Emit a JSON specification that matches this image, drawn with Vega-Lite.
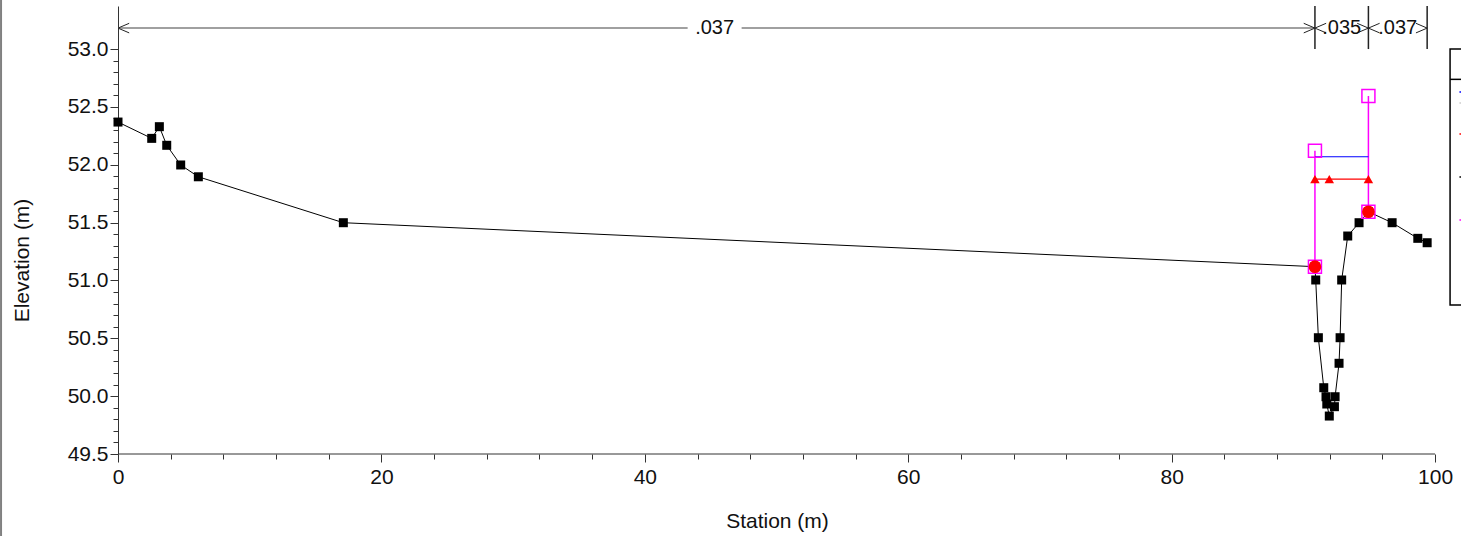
{
  "$schema": "https://vega.github.io/schema/vega-lite/v6.json",
  "autosize": {"type": "none"},
  "padding": {"left": 118, "top": 6, "right": 0, "bottom": 82},
  "width": 1343,
  "height": 448,
  "config": {
    "view": {"stroke": null},
    "font": "Liberation Sans",
    "axis": {"grid": false}
  },
  "datasets": {
    "ground": [
      {"sta": 0, "elev": 52.369},
      {"sta": 2.56, "elev": 52.228},
      {"sta": 3.14, "elev": 52.329},
      {"sta": 3.70, "elev": 52.168},
      {"sta": 4.76, "elev": 51.998},
      {"sta": 6.10, "elev": 51.896},
      {"sta": 17.11, "elev": 51.499},
      {"sta": 90.88, "elev": 51.119},
      {"sta": 90.94, "elev": 51.004},
      {"sta": 91.14, "elev": 50.505},
      {"sta": 91.55, "elev": 50.073},
      {"sta": 91.72, "elev": 49.995},
      {"sta": 91.78, "elev": 49.932},
      {"sta": 91.97, "elev": 49.828},
      {"sta": 92.36, "elev": 49.909},
      {"sta": 92.41, "elev": 49.995},
      {"sta": 92.71, "elev": 50.284},
      {"sta": 92.79, "elev": 50.505},
      {"sta": 92.91, "elev": 51.004},
      {"sta": 93.37, "elev": 51.384},
      {"sta": 94.23, "elev": 51.499},
      {"sta": 94.94, "elev": 51.594},
      {"sta": 96.74, "elev": 51.499},
      {"sta": 98.69, "elev": 51.364},
      {"sta": 99.40, "elev": 51.326}
    ],
    "levee": [
      {"sta": 90.88, "elev": 51.119, "side": "left"},
      {"sta": 90.88, "elev": 52.12, "side": "left"},
      {"sta": 94.94, "elev": 51.594, "side": "right"},
      {"sta": 94.94, "elev": 52.594, "side": "right"}
    ],
    "ws": [
      {"sta": 90.88, "elev": 52.069},
      {"sta": 94.94, "elev": 52.069}
    ],
    "crit": [
      {"sta": 90.88, "elev": 51.875},
      {"sta": 91.97, "elev": 51.875},
      {"sta": 94.94, "elev": 51.875}
    ],
    "bank": [
      {"sta": 90.88, "elev": 51.119},
      {"sta": 94.94, "elev": 51.594}
    ],
    "nlines": [
      {"sta": 0, "sta2": 43.25, "elev": 53.181},
      {"sta": 47.35, "sta2": 90.88, "elev": 53.181}
    ],
    "nlabels": [
      {"sta": 45.3, "label": ".037", "elev": 53.181},
      {"sta": 92.91, "label": ".035", "elev": 53.181},
      {"sta": 97.17, "label": ".037", "elev": 53.181}
    ],
    "arrows": [
      {"sta": 0, "dir": "left", "elev": 53.181},
      {"sta": 90.88, "dir": "right", "elev": 53.181},
      {"sta": 90.88, "dir": "left", "elev": 53.181},
      {"sta": 94.94, "dir": "right", "elev": 53.181},
      {"sta": 94.94, "dir": "left", "elev": 53.181},
      {"sta": 99.4, "dir": "right", "elev": 53.181}
    ],
    "dividers": [
      {"sta": 90.88, "elev": 53.0, "elev2": 53.372},
      {"sta": 94.94, "elev": 53.0, "elev2": 53.372},
      {"sta": 99.4, "elev": 53.0, "elev2": 53.372}
    ],
    "legendbox": [
      {"sta": 101.14, "sta2": 102.3, "elev": 50.788, "elev2": 53.0}
    ],
    "legendmarks": [
      {"series": "ws", "sta": 101.85, "sta2": 102.3, "elev": 52.628},
      {"series": "eg", "sta": 101.85, "sta2": 102.3, "elev": 52.533},
      {"series": "crit", "sta": 101.85, "sta2": 102.3, "elev": 52.265},
      {"series": "ground", "sta": 101.85, "sta2": 102.3, "elev": 51.894},
      {"series": "levee", "sta": 101.85, "sta2": 102.3, "elev": 51.522}
    ]
  },
  "layer": [
    {
      "data": {"name": "legendbox"},
      "mark": {"type": "rect", "fill": "white", "stroke": "black", "strokeWidth": 1.5},
      "encoding": {
        "x": {"field": "sta", "type": "quantitative", "scale": {"domain": [0, 101.97], "nice": false, "zero": false}, "axis": {
          "title": "Station (m)",
          "values": [0,4,8,12,16,20,24,28,32,36,40,44,48,52,56,60,64,68,72,76,80,84,88,92,96,100],
          "tickCount": 200,
          "labelExpr": "datum.value % 20 == 0 ? format(datum.value, '.0f') : ''",
          "labelOverlap": false, "labelFlush": false, "labelBound": false,
          "tickSize": {"condition": {"test": "datum.value % 20 == 0", "value": 8}, "value": 5},
          "domain": false,
          "tickColor": "#333",
          "labelFont": "Liberation Sans", "labelFontSize": 21, "labelColor": "#111", "labelPadding": 4,
          "titleFont": "Liberation Sans", "titleFontSize": 21, "titleFontWeight": "normal", "titleColor": "#111",
          "titleX": 659, "titleY": 73, "titleBaseline": "alphabetic", "titleAlign": "center"
        }},
        "x2": {"field": "sta2"},
        "y": {"field": "elev", "type": "quantitative", "scale": {"domain": [49.5, 53.372], "nice": false, "zero": false}, "axis": {
          "title": "Elevation (m)",
          "values": [49.5,49.6,49.7,49.8,49.9,50.0,50.1,50.2,50.3,50.4,50.5,50.6,50.7,50.8,50.9,51.0,51.1,51.2,51.3,51.4,51.5,51.6,51.7,51.8,51.9,52.0,52.1,52.2,52.3,52.4,52.5,52.6,52.7,52.8,52.9,53.0],
          "tickCount": 200,
          "labelExpr": "abs(round(datum.value*10) % 5) == 0 ? format(datum.value, '.1f') : ''",
          "labelOverlap": false, "labelFlush": false, "labelBound": false,
          "tickSize": {"condition": {"test": "abs(round(datum.value*10) % 5) == 0", "value": 8}, "value": 5},
          "domainColor": "#333", "tickColor": "#333",
          "labelFont": "Liberation Sans", "labelFontSize": 21, "labelColor": "#111", "labelPadding": 2,
          "titleFont": "Liberation Sans", "titleFontSize": 21, "titleFontWeight": "normal", "titleColor": "#111",
          "titleX": -90, "titleY": 254, "titleBaseline": "alphabetic", "titleAlign": "center"
        }},
        "y2": {"field": "elev2"}
      }
    },
    {
      "data": {"values": [{"sta": 101.14, "sta2": 102.3, "elev": 52.738}]},
      "mark": {"type": "rule", "color": "black", "strokeWidth": 1.5},
      "encoding": {
        "x": {"field": "sta", "type": "quantitative"},
        "x2": {"field": "sta2"},
        "y": {"field": "elev", "type": "quantitative"}
      }
    },
    {
      "data": {"name": "legendmarks"},
      "mark": {"type": "rule", "strokeWidth": 1.5},
      "encoding": {
        "x": {"field": "sta", "type": "quantitative"},
        "x2": {"field": "sta2"},
        "y": {"field": "elev", "type": "quantitative"},
        "color": {"field": "series", "type": "nominal", "legend": null, "scale": {"domain": ["ws", "eg", "crit", "ground", "levee"], "range": ["#0000ff", "#cccccc", "#ff0000", "#000000", "#ff00ff"]}}
      }
    },
    {
      "data": {"values": [{"sta": -8.88, "elev": 48.7, "elev2": 53.5}]},
      "mark": {"type": "rule", "color": "#808080", "strokeWidth": 2},
      "encoding": {
        "x": {"field": "sta", "type": "quantitative"},
        "y": {"field": "elev", "type": "quantitative"},
        "y2": {"field": "elev2"}
      }
    },
    {
      "data": {"values": [{"sta": 0, "sta2": 100, "elev": 49.5}]},
      "mark": {"type": "rule", "color": "#333", "strokeWidth": 1},
      "encoding": {
        "x": {"field": "sta", "type": "quantitative"},
        "x2": {"field": "sta2"},
        "y": {"field": "elev", "type": "quantitative"}
      }
    },
    {
      "data": {"name": "nlines"},
      "mark": {"type": "rule", "color": "#808080", "strokeWidth": 1.5},
      "encoding": {
        "x": {"field": "sta", "type": "quantitative"},
        "x2": {"field": "sta2"},
        "y": {"field": "elev", "type": "quantitative"}
      }
    },
    {
      "data": {"name": "dividers"},
      "mark": {"type": "rule", "color": "#222", "strokeWidth": 1.5},
      "encoding": {
        "x": {"field": "sta", "type": "quantitative"},
        "y": {"field": "elev", "type": "quantitative"},
        "y2": {"field": "elev2"}
      }
    },
    {
      "data": {"name": "arrows"},
      "transform": [{"filter": "datum.dir == 'left'"}],
      "mark": {"type": "point", "shape": "M1.4,-0.6L0,0L1.4,0.6", "size": 256, "filled": false, "stroke": "#222", "strokeWidth": 1, "opacity": 1},
      "encoding": {
        "x": {"field": "sta", "type": "quantitative"},
        "y": {"field": "elev", "type": "quantitative"}
      }
    },
    {
      "data": {"name": "arrows"},
      "transform": [{"filter": "datum.dir == 'right'"}],
      "mark": {"type": "point", "shape": "M-1.4,-0.6L0,0L-1.4,0.6", "size": 256, "filled": false, "stroke": "#222", "strokeWidth": 1, "opacity": 1},
      "encoding": {
        "x": {"field": "sta", "type": "quantitative"},
        "y": {"field": "elev", "type": "quantitative"}
      }
    },
    {
      "data": {"name": "nlabels"},
      "mark": {"type": "text", "font": "Liberation Sans", "fontSize": 20, "color": "#111", "baseline": "middle", "align": "center"},
      "encoding": {
        "x": {"field": "sta", "type": "quantitative"},
        "y": {"field": "elev", "type": "quantitative"},
        "text": {"field": "label"}
      }
    },
    {
      "data": {"name": "ground"},
      "mark": {"type": "line", "color": "black", "strokeWidth": 1},
      "encoding": {
        "x": {"field": "sta", "type": "quantitative"},
        "y": {"field": "elev", "type": "quantitative"}
      }
    },
    {
      "data": {"name": "ground"},
      "mark": {"type": "point", "shape": "square", "size": 81, "filled": true, "color": "black", "opacity": 1},
      "encoding": {
        "x": {"field": "sta", "type": "quantitative"},
        "y": {"field": "elev", "type": "quantitative"}
      }
    },
    {
      "data": {"name": "levee"},
      "mark": {"type": "line", "color": "#ff00ff", "strokeWidth": 1.5},
      "encoding": {
        "x": {"field": "sta", "type": "quantitative"},
        "y": {"field": "elev", "type": "quantitative"},
        "detail": {"field": "side"}
      }
    },
    {
      "data": {"name": "ws"},
      "mark": {"type": "line", "color": "#0000ff", "strokeWidth": 1.2},
      "encoding": {
        "x": {"field": "sta", "type": "quantitative"},
        "y": {"field": "elev", "type": "quantitative"}
      }
    },
    {
      "data": {"name": "crit"},
      "mark": {"type": "line", "color": "#ff0000", "strokeWidth": 1.2},
      "encoding": {
        "x": {"field": "sta", "type": "quantitative"},
        "y": {"field": "elev", "type": "quantitative"}
      }
    },
    {
      "data": {"name": "crit"},
      "mark": {"type": "point", "shape": "triangle-up", "size": 90, "filled": true, "color": "#ff0000", "opacity": 1},
      "encoding": {
        "x": {"field": "sta", "type": "quantitative"},
        "y": {"field": "elev", "type": "quantitative"}
      }
    },
    {
      "data": {"name": "levee"},
      "mark": {"type": "point", "shape": "square", "size": 169, "filled": false, "stroke": "#ff00ff", "strokeWidth": 1.5, "opacity": 1},
      "encoding": {
        "x": {"field": "sta", "type": "quantitative"},
        "y": {"field": "elev", "type": "quantitative"}
      }
    },
    {
      "data": {"name": "bank"},
      "mark": {"type": "point", "shape": "circle", "size": 160, "filled": true, "color": "#ff0000", "opacity": 1},
      "encoding": {
        "x": {"field": "sta", "type": "quantitative"},
        "y": {"field": "elev", "type": "quantitative"}
      }
    }
  ]
}
